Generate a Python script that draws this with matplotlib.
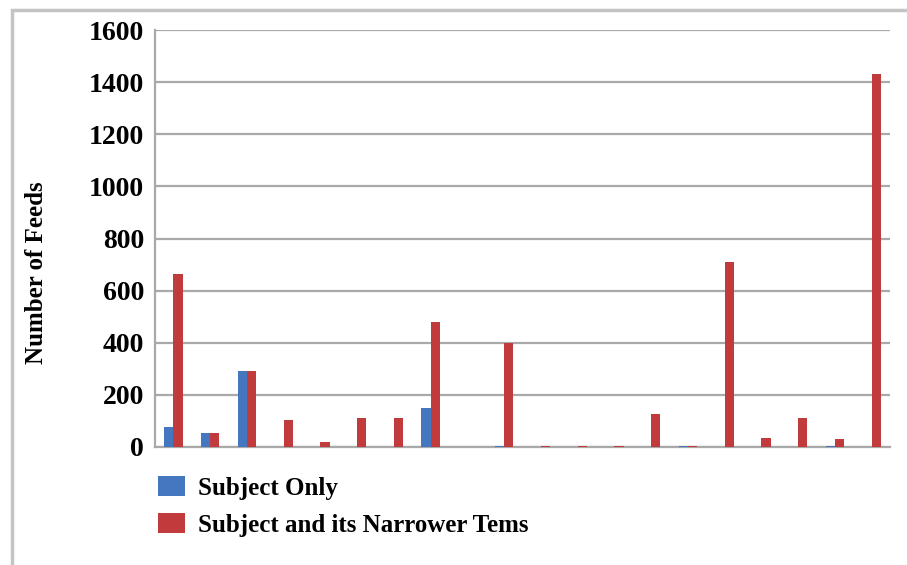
import matplotlib.pyplot as plt
import numpy as np
from matplotlib.patches import Rectangle

# feed counts per subject heading
subject_only = [75, 55, 290, 0, 0, 0, 0, 150, 0, 5, 0, 0, 0, 0, 3, 0, 0, 0, 5, 0]
with_narrower = [665, 55, 290, 105, 20, 110, 110, 480, 0, 400, 5, 3, 3, 125, 5, 710, 35, 110, 30, 1430]
y_ticks = [0, 200, 400, 600, 800, 1000, 1200, 1400, 1600]

blue = '#4477c0'
red = '#c13b3d'
grid_col = '#a9a9a9'

plt.rcParams['font.family'] = ['Liberation Serif', 'DejaVu Serif']
plt.rcParams['font.weight'] = 'bold'

fig = plt.figure(figsize=(9.07, 5.65), dpi=100)
ax = fig.add_axes([155 / 907, 1 - 447 / 565, 735 / 907, 417 / 565])

x = np.arange(len(with_narrower))
w = 0.25
ax.bar(x - w / 2, subject_only, w, color=blue, label='Subject Only', zorder=3)
ax.bar(x + w / 2, with_narrower, w, color=red, label='Subject and its Narrower Tems', zorder=3)

ax.set_xlim(-0.5, len(x) - 0.5)
ax.set_ylim(0, 1600)
ax.set_yticks(y_ticks)
ax.set_yticklabels([str(v) for v in y_ticks], fontsize=20, fontweight='bold')
ax.set_xticks([])
ax.tick_params(axis='y', length=0, pad=8)
ax.yaxis.grid(True, color=grid_col, linewidth=1.6, zorder=0)
for s in ['top', 'right']:
    ax.spines[s].set_visible(False)
for s in ['left', 'bottom']:
    ax.spines[s].set_color(grid_col)
    ax.spines[s].set_linewidth(1.6)

fig.text(37 / 907, 1 - 273 / 565, 'Number of Feeds', rotation=90, fontsize=18,
         fontweight='bold', ha='center', va='center')

fig.legend(loc='upper left', bbox_to_anchor=(148 / 907, 1 - 466 / 565), frameon=False,
           prop={'size': 18, 'weight': 'bold'}, handlelength=1.08, handleheight=0.85,
           labelspacing=0.55, handletextpad=0.5, borderaxespad=0)

# outer chart frame
fig.patches.append(Rectangle((12 / 907, -0.05), 1.0, 1 - 10 / 565 + 0.05, transform=fig.transFigure,
                             fill=False, edgecolor='#c4c4c4', linewidth=2.5))

fig.savefig('out.png', dpi=100)
